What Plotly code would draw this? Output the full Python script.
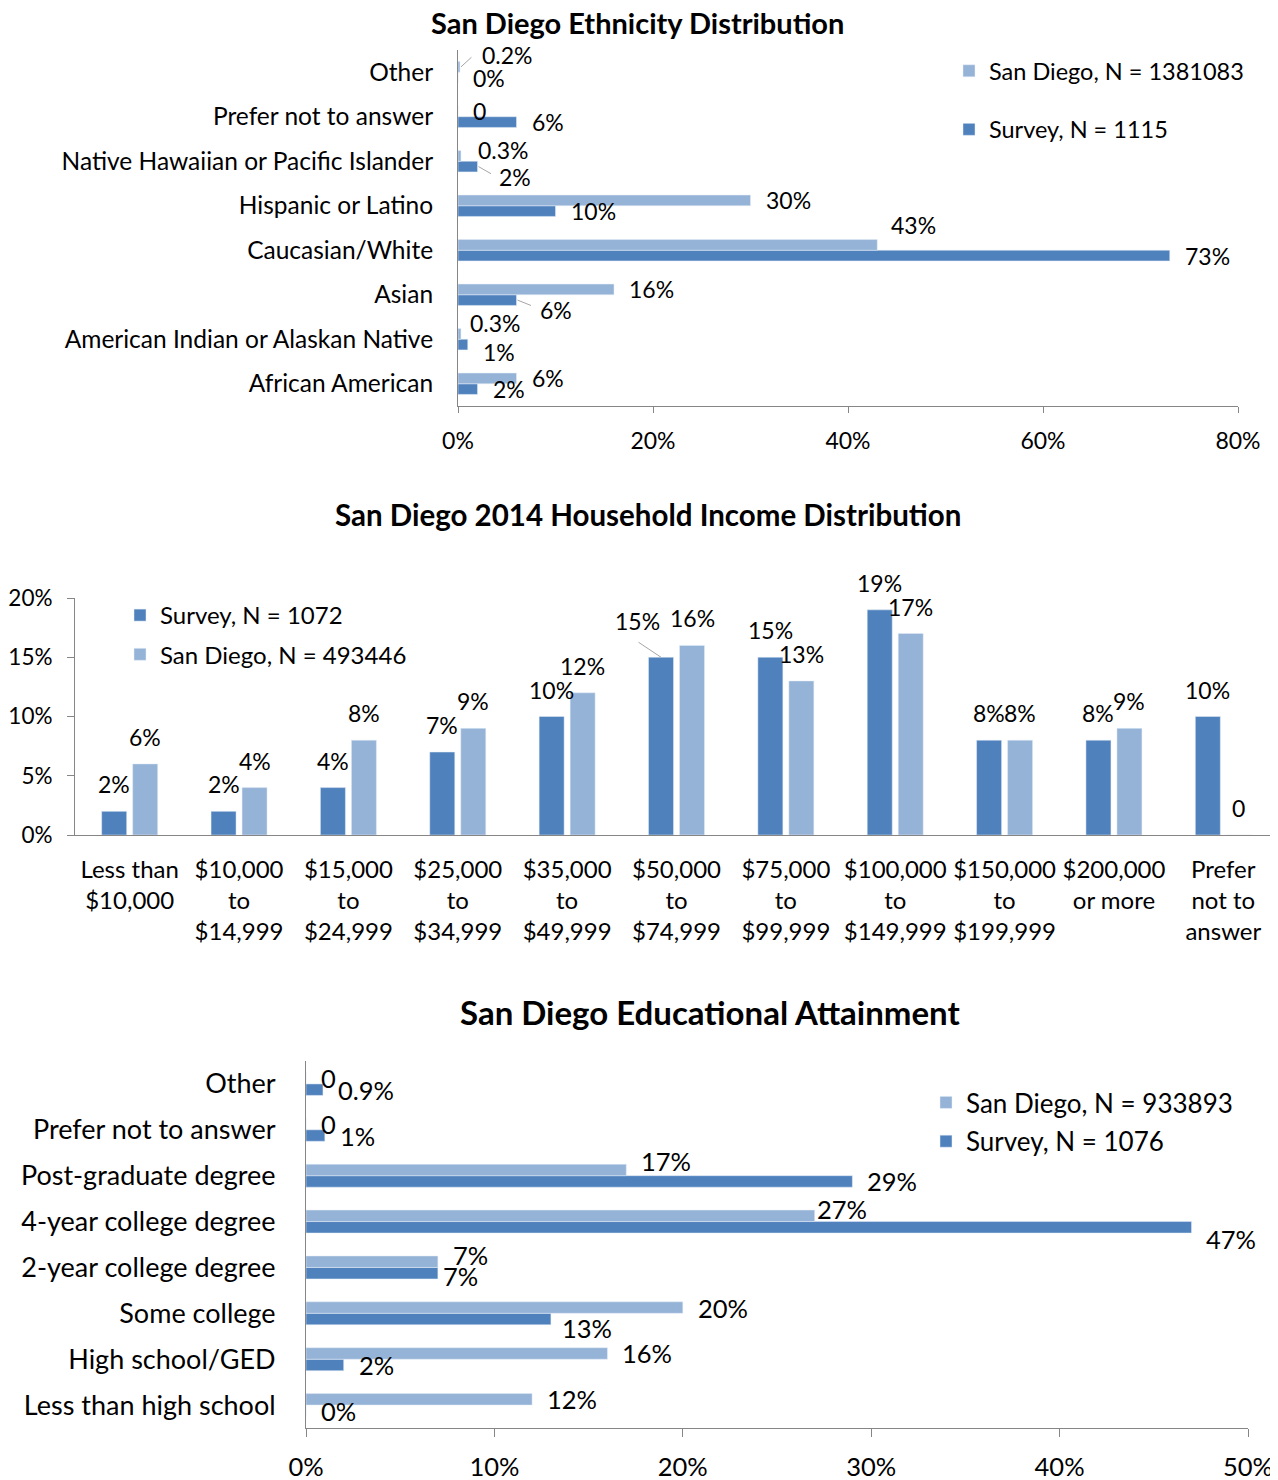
import plotly.graph_objects as go

W, H = 1278, 1480          # target picture size
OFF = 8                    # page body margin the figure sits inside
FW, FH = W - OFF, H - OFF  # figure size
DARK = "#4F81BD"
LIGHT = "#95B3D7"
AXIS = "#868686"
LEADER = "#A6A6A6"
FONT = "Lato"

# ---------------- data ----------------
eth_cats = ["Other", "Prefer not to answer", "Native Hawaiian or Pacific Islander",
            "Hispanic or Latino", "Caucasian/White", "Asian",
            "American Indian or Alaskan Native", "African American"]
eth_sd = [0.2, 0, 0.3, 30, 43, 16, 0.3, 6]
eth_survey = [0, 6, 2, 10, 73, 6, 1, 2]
eth_ticks = [0, 20, 40, 60, 80]

inc_cats = ["Less than<br>$10,000", "$10,000<br>to<br>$14,999", "$15,000<br>to<br>$24,999",
            "$25,000<br>to<br>$34,999", "$35,000<br>to<br>$49,999", "$50,000<br>to<br>$74,999",
            "$75,000<br>to<br>$99,999", "$100,000<br>to<br>$149,999", "$150,000<br>to<br>$199,999",
            "$200,000<br>or more", "Prefer<br>not to<br>answer"]
inc_survey = [2, 2, 4, 7, 10, 15, 15, 19, 8, 8, 10]
inc_sd = [6, 4, 8, 9, 12, 16, 13, 17, 8, 9, 0]
inc_ticks = [0, 5, 10, 15, 20]

edu_cats = ["Other", "Prefer not to answer", "Post-graduate degree", "4-year college degree",
            "2-year college degree", "Some college", "High school/GED", "Less than high school"]
edu_sd = [0, 0, 17, 27, 7, 20, 16, 12]
edu_survey = [0.9, 1, 29, 47, 7, 13, 2, 0]
edu_ticks = [0, 10, 20, 30, 40, 50]

eth_legend = {"sd": "San Diego, N = 1381083", "survey": "Survey, N = 1115"}
inc_legend = {"sd": "San Diego, N = 493446", "survey": "Survey, N = 1072"}
edu_legend = {"sd": "San Diego, N = 933893", "survey": "Survey, N = 1076"}

# ---------------- layout geometry (pixels on the page) ----------------
def px(x):
    return (x - OFF) / FW

def py(y):
    return 1 - (y - OFF) / FH

def dom_x(a, b):
    return [px(a), px(b)]

def dom_y(top, bottom):
    return [py(bottom), py(top)]

P1 = dict(x=(458, 1238), y=(50, 406))
P2 = dict(x=(75, 1278), y=(598, 835))
P3 = dict(x=(306, 1248), y=(1061, 1428))


def fmt(v, series):
    if series == "sd" and v == 0:
        return "0"
    return f"{v:g}%"


def pct(ticks):
    return [f"{t}%" for t in ticks]


fig = go.Figure()
annotations = []
LAB_GAP = 13

# ---------------- chart 1: ethnicity (horizontal) ----------------
BW1 = 0.24
slot1 = (P1["y"][1] - P1["y"][0]) / len(eth_cats)
half1 = BW1 * slot1 / 2
fig.add_trace(go.Bar(y=eth_cats, x=eth_survey, orientation="h", name=eth_legend["survey"],
                     marker_color=DARK, width=BW1, offset=-BW1, xaxis="x", yaxis="y",
                     legend="legend", legendgroup="a_s", legendrank=2))
fig.add_trace(go.Bar(y=eth_cats, x=eth_sd, orientation="h", name=eth_legend["sd"],
                     marker_color=LIGHT, width=BW1, offset=0, xaxis="x", yaxis="y",
                     legend="legend", legendgroup="a_d", legendrank=1))

eth_nudge = {
    ("sd", "Other"): (7, -12),
    ("sd", "Native Hawaiian or Pacific Islander"): (2, -6),
    ("survey", "Native Hawaiian or Pacific Islander"): (6, 10),
    ("sd", "Caucasian/White"): (-1, -20),
    ("survey", "Asian"): (8, 10),
    ("sd", "American Indian or Alaskan Native"): (-6, -11),
    ("survey", "American Indian or Alaskan Native"): (0, 7),
}
for series, vals, sign in (("sd", eth_sd, 1), ("survey", eth_survey, -1)):
    for c, v in zip(eth_cats, vals):
        dx, dy = eth_nudge.get((series, c), (0, 0))
        annotations.append(dict(x=v, y=c, xref="x", yref="y", text=fmt(v, series),
                                showarrow=False, xanchor="left", yanchor="middle",
                                xshift=LAB_GAP + dx, yshift=sign * half1 - dy,
                                font=dict(size=23, color="black", family=FONT)))
# leader lines
for series, c, vals, sign, ax, ay in (("sd", "Other", eth_sd, 1, 12, -11),
                                      ("survey", "Native Hawaiian or Pacific Islander", eth_survey, -1, 14, 8),
                                      ("survey", "Asian", eth_survey, -1, 15, 6)):
    v = vals[eth_cats.index(c)]
    annotations.append(dict(x=v, y=c, xref="x", yref="y", text="", showarrow=True,
                            arrowhead=0, arrowwidth=1, arrowcolor=LEADER, ax=ax, ay=ay,
                            standoff=0, startstandoff=0, xshift=1, yshift=sign * half1))

# ---------------- chart 2: income (vertical) ----------------
slot2 = (P2["x"][1] - P2["x"][0]) / len(inc_cats)
bw2_px, gap2_px = 25, 6
BW2 = bw2_px / slot2
fig.add_trace(go.Bar(x=inc_cats, y=inc_survey, name=inc_legend["survey"], marker_color=DARK,
                     width=BW2, offset=-(bw2_px + gap2_px / 2) / slot2, xaxis="x2", yaxis="y2",
                     legend="legend2", legendgroup="b_s"))
fig.add_trace(go.Bar(x=inc_cats, y=inc_sd, name=inc_legend["sd"], marker_color=LIGHT,
                     width=BW2, offset=(gap2_px / 2) / slot2, xaxis="x2", yaxis="y2",
                     legend="legend2", legendgroup="b_d"))
cshift2 = bw2_px / 2 + gap2_px / 2
inc_nudge = {("survey", inc_cats[5]): (-24, -9)}
for series, vals, sign in (("survey", inc_survey, -1), ("sd", inc_sd, 1)):
    for c, v in zip(inc_cats, vals):
        dx, dy = inc_nudge.get((series, c), (0, 0))
        annotations.append(dict(x=c, y=v, xref="x2", yref="y2", text=fmt(v, series),
                                showarrow=False, xanchor="center", yanchor="middle",
                                xshift=sign * cshift2 + dx, yshift=27 - dy,
                                font=dict(size=23, color="black", family=FONT)))
annotations.append(dict(x=inc_cats[5], y=inc_survey[5], xref="x2", yref="y2", text="",
                        showarrow=True, arrowhead=0, arrowwidth=1, arrowcolor=LEADER,
                        ax=-24, ay=-16, standoff=0, startstandoff=0, xshift=-cshift2))

# ---------------- chart 3: education (horizontal) ----------------
BW3 = 0.25
slot3 = (P3["y"][1] - P3["y"][0]) / len(edu_cats)
half3 = BW3 * slot3 / 2
fig.add_trace(go.Bar(y=edu_cats, x=edu_survey, orientation="h", name=edu_legend["survey"],
                     marker_color=DARK, width=BW3, offset=-BW3, xaxis="x3", yaxis="y3",
                     legend="legend3", legendgroup="c_s", legendrank=2))
fig.add_trace(go.Bar(y=edu_cats, x=edu_sd, orientation="h", name=edu_legend["sd"],
                     marker_color=LIGHT, width=BW3, offset=0, xaxis="x3", yaxis="y3",
                     legend="legend3", legendgroup="c_d", legendrank=1))
edu_nudge = {
    ("sd", "Post-graduate degree"): (0, -9),
    ("sd", "4-year college degree"): (-13, -7),
    ("survey", "4-year college degree"): (0, 12),
    ("sd", "2-year college degree"): (0, -7),
    ("survey", "2-year college degree"): (-10, 3),
    ("survey", "Some college"): (-4, 9),
}
for series, vals, sign in (("sd", edu_sd, 1), ("survey", edu_survey, -1)):
    for c, v in zip(edu_cats, vals):
        dx, dy = edu_nudge.get((series, c), (0, 0))
        annotations.append(dict(x=v, y=c, xref="x3", yref="y3", text=fmt(v, series),
                                showarrow=False, xanchor="left", yanchor="middle",
                                xshift=LAB_GAP + dx, yshift=sign * half3 - dy,
                                font=dict(size=25.5, color="black", family=FONT)))

# ---------------- titles ----------------
for text, xc, yc, size in (("San Diego Ethnicity Distribution", 637, 22, 29),
                           ("San Diego 2014 Household Income Distribution", 648, 515, 29.5),
                           ("San Diego Educational Attainment", 710, 1012, 33)):
    annotations.append(dict(x=px(xc), y=py(yc), xref="paper", yref="paper",
                            text=f"<b>{text}</b>", showarrow=False, xanchor="center",
                            yanchor="middle", font=dict(size=size, color="black", family=FONT)))

axis_common = dict(showline=True, linecolor=AXIS, linewidth=1, showgrid=False,
                   zeroline=False, tickcolor=AXIS, automargin=False)

fig.update_layout(
    width=FW, height=FH,
    margin=dict(l=0, r=0, t=0, b=0, autoexpand=False),
    paper_bgcolor="white", plot_bgcolor="white",
    font=dict(family=FONT, color="black", size=23),
    barmode="group",
    annotations=annotations,
    xaxis=dict(domain=dom_x(*P1["x"]), anchor="y", range=[0, 80], tickvals=eth_ticks,
               ticktext=pct(eth_ticks), ticks="outside", ticklen=6, tickfont=dict(size=23),
               ticklabelstandoff=8, **axis_common),
    yaxis=dict(domain=dom_y(*P1["y"]), anchor="x", type="category",
               categoryorder="array", categoryarray=eth_cats[::-1],
               range=[-0.5, len(eth_cats) - 0.5], ticks="", tickfont=dict(size=24.5),
               ticklabelstandoff=19, **axis_common),
    xaxis2=dict(domain=dom_x(*P2["x"]), anchor="y2", type="category",
                categoryorder="array", categoryarray=inc_cats,
                range=[-0.5, len(inc_cats) - 0.5], ticks="", tickfont=dict(size=24),
                ticklabelstandoff=13, **axis_common),
    yaxis2=dict(domain=dom_y(*P2["y"]), anchor="x2", range=[0, 20], tickvals=inc_ticks,
                ticktext=pct(inc_ticks), ticks="outside", ticklen=7, tickfont=dict(size=22.5),
                ticklabelstandoff=10, **axis_common),
    xaxis3=dict(domain=dom_x(*P3["x"]), anchor="y3", range=[0, 50], tickvals=edu_ticks,
                ticktext=pct(edu_ticks), ticks="outside", ticklen=8, tickfont=dict(size=25.5),
                ticklabelstandoff=8, **axis_common),
    yaxis3=dict(domain=dom_y(*P3["y"]), anchor="x3", type="category",
                categoryorder="array", categoryarray=edu_cats[::-1],
                range=[-0.5, len(edu_cats) - 0.5], ticks="", tickfont=dict(size=27),
                ticklabelstandoff=24, **axis_common),
    legend=dict(x=px(949), y=py(49), xanchor="left", yanchor="top",
                traceorder="grouped", tracegroupgap=25, bgcolor="rgba(0,0,0,0)",
                font=dict(size=23.5, family=FONT)),
    legend2=dict(x=px(120), y=py(593), xanchor="left", yanchor="top",
                 traceorder="grouped", tracegroupgap=5, bgcolor="rgba(0,0,0,0)",
                 font=dict(size=24, family=FONT)),
    legend3=dict(x=px(926), y=py(1079), xanchor="left", yanchor="top",
                 traceorder="grouped", tracegroupgap=2, bgcolor="rgba(0,0,0,0)",
                 font=dict(size=26, family=FONT)),
)

fig.write_html("out.html")
